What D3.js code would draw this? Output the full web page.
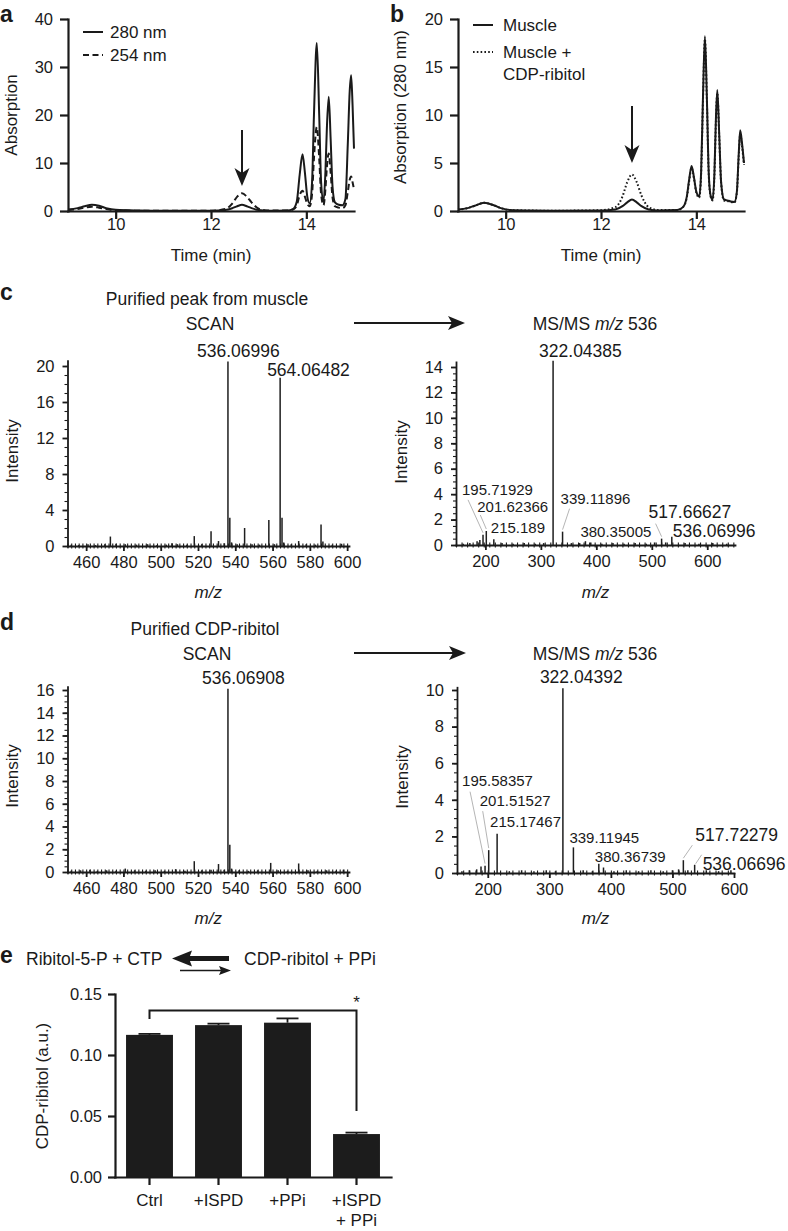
<!DOCTYPE html>
<html>
<head>
<meta charset="utf-8">
<script src="https://cdn.jsdelivr.net/npm/d3@7/dist/d3.min.js"></script>
<style>
html,body{margin:0;padding:0;background:#fff;}
svg{display:block;}
</style>
</head>
<body>
<svg id="fig" width="788" height="1231" xmlns="http://www.w3.org/2000/svg"></svg>
<script>
// ================= DATA =================
// Panel a: chromatogram, two wavelengths
const timeA = [9.0, 9.2, 9.35, 9.5, 9.65, 9.8, 10.0, 10.5, 11.0, 12.0,
  12.3, 12.45, 12.55, 12.65, 12.75, 12.85, 13.0, 13.2, 13.6, 13.72,
  13.8, 13.86, 13.92, 13.97, 14.02, 14.07, 14.12, 14.16, 14.22, 14.27,
  14.31, 14.36, 14.4, 14.43, 14.47, 14.51, 14.55, 14.6, 14.68, 14.76,
  14.82, 14.87, 14.91, 14.94, 14.97, 15.0];
const abs280 = [0.3, 0.6, 1.0, 1.3, 1.1, 0.6, 0.25, 0.1, 0.05, 0.05,
  0.2, 0.6, 1.0, 1.3, 1.0, 0.6, 0.2, 0.05, 0.1, 0.4,
  2.0, 7.5, 11.8, 8.0, 3.0, 1.6, 6.0, 20.0, 35.0, 20.0,
  6.0, 2.0, 8.0, 17.0, 23.8, 15.0, 5.0, 1.8, 1.3, 1.2,
  2.5, 14.0, 25.0, 28.3, 22.0, 13.0];
const abs254 = [0.2, 0.4, 0.7, 0.9, 0.7, 0.4, 0.15, 0.05, 0.03, 0.05,
  0.4, 1.6, 3.0, 3.7, 3.0, 1.8, 0.5, 0.1, 0.1, 0.3,
  1.2, 3.3, 4.2, 3.0, 1.5, 1.0, 3.5, 11.0, 17.5, 11.0,
  3.5, 1.2, 4.5, 9.0, 12.0, 8.0, 2.8, 1.0, 0.7, 0.6,
  1.2, 4.0, 6.5, 7.2, 6.0, 4.5];

// Panel b: chromatogram at 280 nm
const timeB = [9.0, 9.2, 9.35, 9.55, 9.75, 9.9, 10.1, 10.5, 11.0, 12.0,
  12.3, 12.45, 12.55, 12.65, 12.75, 12.85, 13.0, 13.2, 13.6, 13.72,
  13.8, 13.85, 13.9, 13.95, 14.0, 14.06, 14.1, 14.14, 14.18, 14.22,
  14.26, 14.3, 14.34, 14.38, 14.41, 14.44, 14.48, 14.52, 14.58, 14.65,
  14.72, 14.8, 14.85, 14.89, 14.92, 14.96, 15.0];
const absMuscle = [0.15, 0.3, 0.55, 0.85, 0.6, 0.3, 0.1, 0.05, 0.03, 0.05,
  0.15, 0.5, 0.9, 1.2, 0.9, 0.5, 0.15, 0.05, 0.1, 0.4,
  1.5, 3.3, 4.7, 3.5, 2.0, 1.5, 4.0, 12.0, 18.2, 12.0,
  4.0, 1.6, 1.2, 4.0, 9.5, 12.6, 8.0, 3.0, 1.2, 1.1,
  1.0, 0.95, 2.0, 6.0, 8.4, 7.0, 5.0];
const absMuscleCDP = [0.15, 0.3, 0.55, 0.85, 0.6, 0.3, 0.1, 0.05, 0.03, 0.08,
  0.4, 1.5, 3.0, 3.8, 3.0, 1.6, 0.4, 0.1, 0.1, 0.4,
  1.4, 3.1, 4.5, 3.4, 1.9, 1.4, 3.8, 11.6, 17.9, 11.8,
  3.8, 1.5, 1.1, 3.8, 9.2, 12.3, 7.8, 2.9, 1.1, 1.05,
  0.95, 0.9, 1.9, 5.7, 8.0, 6.7, 4.8];

const ticksTime = [10, 12, 14];
const ticksAbsA = [0, 10, 20, 30, 40];
const ticksAbsB = [0, 5, 10, 15, 20];
const legendA = ["280 nm", "254 nm"];
const legendB = ["Muscle", "Muscle +", "CDP-ribitol"];
const arrowTime = 12.65;

// Panel c: purified peak from muscle
const scanMuscleMz = [452, 456, 461, 465, 470, 473, 476, 481, 487, 493,
  498, 503, 506, 509, 514, 518, 522, 527, 531, 534,
  536.07, 537.07, 538, 541, 545, 549, 553, 558, 561, 564.06,
  565.07, 566, 570, 574, 578, 583, 586, 587, 592, 597];
const scanMuscleInt = [0.15, 0.1, 0.2, 0.1, 0.2, 1.05, 0.25, 0.2, 0.15, 0.2,
  0.1, 0.15, 0.3, 0.2, 0.15, 1.1, 0.2, 1.65, 0.55, 0.3,
  20.5, 3.15, 0.4, 0.2, 2.0, 0.2, 0.15, 2.9, 0.2, 18.7,
  3.15, 0.4, 0.2, 0.55, 0.2, 0.15, 2.4, 0.5, 0.15, 0.25];
const scanMuscleLabels = ["536.06996", "564.06482"];

const msmsMuscleMz = [160, 172, 185, 190, 195.72, 201.62, 215.19, 230, 250, 270,
  290, 305, 322.04, 339.12, 355, 370, 380.35, 390, 410, 430,
  450, 470, 490, 505, 517.67, 525, 536.07, 560, 585, 610, 635];
const msmsMuscleInt = [0.1, 0.15, 0.3, 0.4, 0.8, 1.1, 0.45, 0.15, 0.1, 0.15,
  0.1, 0.15, 14.5, 1.05, 0.15, 0.15, 0.3, 0.2, 0.1, 0.15,
  0.1, 0.15, 0.1, 0.2, 0.5, 0.2, 0.65, 0.15, 0.1, 0.15, 0.1];
const msmsMuscleLabels = ["322.04385", "195.71929", "201.62366", "215.189",
  "339.11896", "380.35005", "517.66627", "536.06996"];

// Panel d: purified CDP-ribitol
const scanCdpMz = [452, 457, 462, 466, 471, 476, 481, 486, 492, 497,
  502, 508, 513, 518, 522, 527, 531, 534, 536.07, 537.07,
  538, 542, 547, 552, 559, 563, 568, 574, 579, 584,
  589, 594, 598];
const scanCdpInt = [0.1, 0.15, 0.2, 0.1, 0.15, 0.1, 0.3, 0.15, 0.1, 0.15,
  0.1, 0.25, 0.1, 0.95, 0.15, 0.2, 0.7, 0.2, 16.1, 2.4,
  0.3, 0.15, 0.1, 0.15, 0.8, 0.15, 0.1, 0.75, 0.15, 0.1,
  0.15, 0.1, 0.2];
const scanCdpLabels = ["536.06908"];

const msmsCdpMz = [158, 170, 182, 189, 195.58, 201.52, 215.17, 235, 255, 275,
  295, 310, 322.04, 339.12, 355, 370, 380.37, 388, 405, 425,
  445, 465, 485, 500, 510, 517.72, 525, 536.07, 555, 575, 595];
const msmsCdpInt = [0.1, 0.15, 0.2, 0.35, 0.4, 1.25, 2.15, 0.1, 0.15, 0.1,
  0.15, 0.1, 10.1, 1.4, 0.15, 0.1, 0.5, 0.3, 0.1, 0.15,
  0.1, 0.15, 0.1, 0.15, 0.2, 0.7, 0.15, 0.45, 0.15, 0.1, 0.15];
const msmsCdpLabels = ["322.04392", "195.58357", "201.51527", "215.17467",
  "339.11945", "380.36739", "517.72279", "536.06696"];

const ticksScanMz = [460, 480, 500, 520, 540, 560, 580, 600];
const ticksMsmsMz = [200, 300, 400, 500, 600];
const ticksIntC1 = [0, 4, 8, 12, 16, 20];
const ticksIntC2 = [0, 2, 4, 6, 8, 10, 12, 14];
const ticksIntD1 = [0, 2, 4, 6, 8, 10, 12, 14, 16];
const ticksIntD2 = [0, 2, 4, 6, 8, 10];

// Panel e: bar chart
const barCategories = ["Ctrl", "+ISPD", "+PPi", "+ISPD\n+ PPi"];
const barValues = [0.1165, 0.1245, 0.1265, 0.0352];
const barErrors = [0.0008, 0.0012, 0.0035, 0.0012];
const ticksE = [0.00, 0.05, 0.10, 0.15];

// ================= DRAWING =================
const F = '"Liberation Sans", Arial, Helvetica, sans-serif';
const INK = "#1a1a1a";
const svg = d3.select("#fig");

function text(g, x, y, s, o = {}) {
  return g.append("text").attr("x", x).attr("y", y)
    .attr("font-family", F).attr("font-size", o.fs || 17)
    .attr("font-weight", o.bold ? "bold" : null)
    .attr("font-style", o.italic ? "italic" : null)
    .attr("text-anchor", o.anchor || "start")
    .attr("fill", o.fill || INK).text(s);
}
function rotText(g, x, y, s, fs) {
  return g.append("text").attr("transform", `translate(${x},${y}) rotate(-90)`)
    .attr("font-family", F).attr("font-size", fs).attr("text-anchor", "middle")
    .attr("fill", INK).text(s);
}
function styleAxis(g, sw, fs) {
  g.attr("font-family", null).attr("font-size", null);
  g.selectAll("text").attr("font-family", F).attr("font-size", fs).attr("fill", INK);
  g.selectAll("line").attr("stroke", INK).attr("stroke-width", sw);
  g.selectAll(".domain").attr("stroke", INK).attr("stroke-width", sw).attr("stroke-linecap", "square");
  return g;
}
function mzText(g, cx, y, fs) {
  const t = g.append("text").attr("x", cx).attr("y", y).attr("text-anchor", "middle")
    .attr("font-family", F).attr("font-size", fs).attr("fill", INK);
  t.append("tspan").attr("font-style", "italic").text("m/z");
  return t;
}
function msTitle(g, cx, y, fs) {
  const t = g.append("text").attr("x", cx).attr("y", y).attr("text-anchor", "middle")
    .attr("font-family", F).attr("font-size", fs).attr("fill", INK);
  t.append("tspan").text("MS/MS ");
  t.append("tspan").attr("font-style", "italic").text("m/z");
  t.append("tspan").text(" 536");
}
function hArrow(g, x0, x1, y) {
  g.append("line").attr("x1", x0).attr("x2", x1 - 10).attr("y1", y).attr("y2", y)
    .attr("stroke", INK).attr("stroke-width", 2);
  g.append("path").attr("d", `M${x1},${y} L${x1 - 17},${y - 7} L${x1 - 13},${y} L${x1 - 17},${y + 7} Z`).attr("fill", INK);
}

// ---------- chromatogram panels ----------
function chromPanel(opt) {
  const g = svg.append("g");
  const x = d3.scaleLinear().domain([9, 15]).range([opt.x0, opt.x0 + 286]);
  const y = d3.scaleLinear().domain([0, opt.ymax]).range([211, 19]);
  styleAxis(g.append("g").attr("transform", "translate(0,211)")
    .call(d3.axisBottom(x).tickValues(ticksTime).tickFormat(d3.format("d")).tickSize(8).tickSizeOuter(0).tickPadding(-1)), 2.2, 16.5);
  styleAxis(g.append("g").attr("transform", `translate(${opt.x0},0)`)
    .call(d3.axisLeft(y).tickValues(opt.yticks).tickFormat(d3.format("d")).tickSize(8).tickSizeOuter(0).tickPadding(7)), 2.2, 16.5);
  opt.series.forEach(s => {
    const line = d3.line().x((d, i) => x(opt.time[i])).y(d => y(d)).curve(d3.curveMonotoneX);
    g.append("path").datum(s.values).attr("d", line).attr("fill", "none")
      .attr("stroke", INK).attr("stroke-width", 2).attr("stroke-dasharray", s.dash);
  });
  // arrow
  const ax = x(arrowTime);
  g.append("line").attr("x1", ax).attr("x2", ax).attr("y1", opt.arrowTop).attr("y2", opt.arrowTip - 12)
    .attr("stroke", INK).attr("stroke-width", 2);
  g.append("path").attr("d", `M${ax},${opt.arrowTip} L${ax - 7.5},${opt.arrowTip - 18} L${ax},${opt.arrowTip - 13} L${ax + 7.5},${opt.arrowTip - 18} Z`).attr("fill", INK);
  text(g, opt.x0 + 143, 261, "Time (min)", { fs: 17, anchor: "middle" });
  rotText(g, opt.ylabX, opt.ylabY, opt.ylab, 17);
  text(g, opt.x0 - 68, 22, opt.letter, { fs: 23, bold: true });
  return g;
}

const gA = chromPanel({
  x0: 68, ymax: 40, yticks: ticksAbsA, time: timeA,
  series: [{ values: abs280, dash: null }, { values: abs254, dash: "6,3.5" }],
  arrowTop: 130, arrowTip: 186, ylab: "Absorption", ylabX: 17, ylabY: 115, letter: "a"
});
[0, 1].forEach(i => {
  const ly = [32, 55][i];
  gA.append("line").attr("x1", 83).attr("x2", 103).attr("y1", ly).attr("y2", ly)
    .attr("stroke", INK).attr("stroke-width", 2).attr("stroke-dasharray", i ? "6,3.5" : null);
  text(gA, 110, ly + 6, legendA[i], { fs: 17 });
});

const gB = chromPanel({
  x0: 458, ymax: 20, yticks: ticksAbsB, time: timeB,
  series: [{ values: absMuscle, dash: null }, { values: absMuscleCDP, dash: "1.6,2.2" }],
  arrowTop: 106, arrowTip: 163, ylab: "Absorption (280 nm)", ylabX: 406, ylabY: 107, letter: "b"
});
[0, 1].forEach(i => {
  const ly = [25, 52][i];
  gB.append("line").attr("x1", 473).attr("x2", 493).attr("y1", ly).attr("y2", ly)
    .attr("stroke", INK).attr("stroke-width", 2).attr("stroke-dasharray", i ? "1.6,2.2" : null);
});
text(gB, 503, 31, legendB[0], { fs: 17 });
text(gB, 503, 58, legendB[1], { fs: 17 });
text(gB, 503, 80, legendB[2], { fs: 17 });

// ---------- mass spectra ----------
function msPanel(opt) {
  const g = svg.append("g");
  const x = d3.scaleLinear().domain(opt.xdom).range(opt.xr);
  const y = d3.scaleLinear().domain([0, opt.ytop]).range([opt.y0, opt.y0 - opt.ytop * opt.ppu]);
  // minor ticks
  styleAxis(g.append("g").attr("transform", `translate(0,${opt.y0})`)
    .call(d3.axisBottom(x).tickValues(d3.range(opt.xdom[0], opt.xdom[1], opt.xminor)).tickSize(2.5).tickSizeOuter(0).tickFormat("")), 1.1, 10)
    .select(".domain").remove();
  styleAxis(g.append("g").attr("transform", `translate(0,${opt.y0})`)
    .call(d3.axisBottom(x).tickValues(d3.range(opt.xdom[0], opt.xdom[1], opt.xminor)).tickSize(-2.5).tickSizeOuter(0).tickFormat("")), 1.1, 10)
    .select(".domain").remove();
  styleAxis(g.append("g").attr("transform", `translate(${opt.xr[0]},0)`)
    .call(d3.axisLeft(y).tickValues(d3.range(0, opt.ytop, opt.yminor)).tickSize(3).tickSizeOuter(0).tickFormat("")), 1.1, 10)
    .select(".domain").remove();
  // major
  styleAxis(g.append("g").attr("transform", `translate(0,${opt.y0})`)
    .call(d3.axisBottom(x).tickValues(opt.xticks).tickSize(5).tickSizeOuter(0).tickPadding(opt.xpad)), 1.8, 16.5);
  styleAxis(g.append("g").attr("transform", `translate(${opt.xr[0]},0)`)
    .call(d3.axisLeft(y).tickValues(opt.yticks).tickSize(5).tickSizeOuter(0).tickPadding(8)), 1.8, 16.5);
  // sticks
  g.append("g").selectAll("line").data(opt.mz).join("line")
    .attr("x1", d => x(d)).attr("x2", d => x(d))
    .attr("y1", y(0)).attr("y2", (d, i) => y(opt.int[i]))
    .attr("stroke", "#1e1e1e").attr("stroke-width", 1.5);
  // labels
  opt.labels.forEach(lab => {
    const m = +lab;
    let bi = 0;
    opt.mz.forEach((v, i) => { if (Math.abs(v - m) < Math.abs(opt.mz[bi] - m)) bi = i; });
    const px = x(opt.mz[bi]), py = y(opt.int[bi]);
    const L = opt.layout[lab];
    if (L.lead) {
      g.append("line").attr("x1", px + L.lead[0]).attr("y1", py + L.lead[1])
        .attr("x2", px + (L.end ? L.end[0] : 0)).attr("y2", py + (L.end ? L.end[1] : -2))
        .attr("stroke", "#b5b5b5").attr("stroke-width", 1);
    }
    text(g, px + L.dx, py + L.dy, lab, { fs: L.fs });
  });
  rotText(g, opt.ylabX, opt.ylabY, "Intensity", 17);
  mzText(g, (opt.xr[0] + opt.xr[1]) / 2 + opt.mzdx, opt.mzY, 17);
  return g;
}

// c left
msPanel({
  xdom: [450, 601], xr: [67.5, 349], y0: 546, ytop: 20.6, ppu: 9,
  xticks: ticksScanMz, yticks: ticksIntC1, xminor: 2, yminor: 1, xpad: 5,
  mz: scanMuscleMz, int: scanMuscleInt, labels: scanMuscleLabels,
  layout: { "536.06996": { dx: -31, dy: -4.5, fs: 17.5 }, "564.06482": { dx: -13, dy: -2, fs: 17.5 } },
  ylabX: 18, ylabY: 451, mzY: 598, mzdx: 0
});
// c right
msPanel({
  xdom: [147, 650], xr: [456, 735], y0: 545, ytop: 14.4, ppu: 12.714,
  xticks: ticksMsmsMz, yticks: ticksIntC2, xminor: 10, yminor: 0.5, xpad: 5,
  mz: msmsMuscleMz, int: msmsMuscleInt, labels: msmsMuscleLabels,
  layout: {
    "322.04385": { dx: -14, dy: -4, fs: 17.5 },
    "195.71929": { dx: -21, dy: -40, fs: 15, lead: [-15, -35] },
    "201.62366": { dx: -9, dy: -19, fs: 15, lead: [-6, -16] },
    "215.189": { dx: -3, dy: -6, fs: 15 },
    "339.11896": { dx: -2, dy: -28, fs: 15, lead: [7, -23] },
    "380.35005": { dx: -5, dy: -4, fs: 15 },
    "517.66627": { dx: -13, dy: -21, fs: 17.5, lead: [-6, -15] },
    "536.06996": { dx: 1, dy: 0, fs: 17.5 }
  },
  ylabX: 407, ylabY: 452, mzY: 598, mzdx: 0
});
// d left
msPanel({
  xdom: [450, 601], xr: [67.5, 349], y0: 872, ytop: 16.3, ppu: 11.375,
  xticks: ticksScanMz, yticks: ticksIntD1, xminor: 2, yminor: 0.5, xpad: 5,
  mz: scanCdpMz, int: scanCdpInt, labels: scanCdpLabels,
  layout: { "536.06908": { dx: -26, dy: -5, fs: 17.5 } },
  ylabX: 18, ylabY: 776, mzY: 924, mzdx: 0
});
// d right
msPanel({
  xdom: [150, 600], xr: [457, 734], y0: 873, ytop: 10.15, ppu: 18.3,
  xticks: ticksMsmsMz, yticks: ticksIntD2, xminor: 10, yminor: 0.5, xpad: 5,
  mz: msmsCdpMz, int: msmsCdpInt, labels: msmsCdpLabels,
  layout: {
    "322.04392": { dx: -23, dy: -5, fs: 17.5 },
    "195.58357": { dx: -23, dy: -80, fs: 15, lead: [-15, -74] },
    "201.51527": { dx: -9, dy: -44, fs: 15, lead: [-6, -39] },
    "215.17467": { dx: -7, dy: -7, fs: 15 },
    "339.11945": { dx: -4, dy: -4, fs: 15 },
    "380.36739": { dx: -4, dy: -2, fs: 15 },
    "517.72279": { dx: 12, dy: -19, fs: 17.5, lead: [9, -15] },
    "536.06696": { dx: 8, dy: 5, fs: 17.5, lead: [7, -10], end: [1, -1] }
  },
  ylabX: 408, ylabY: 777, mzY: 924, mzdx: 0
});

// titles and arrows c/d
const gT = svg.append("g");
text(gT, 0, 300, "c", { fs: 23, bold: true });
text(gT, 207, 305, "Purified peak from muscle", { fs: 17.5, anchor: "middle" });
text(gT, 210, 330, "SCAN", { fs: 17.5, anchor: "middle" });
msTitle(gT, 595, 330, 17.5);
hArrow(gT, 354, 465, 323);
text(gT, 0, 630, "d", { fs: 23, bold: true });
text(gT, 205, 635, "Purified CDP-ribitol", { fs: 17.5, anchor: "middle" });
text(gT, 207, 660, "SCAN", { fs: 17.5, anchor: "middle" });
msTitle(gT, 595, 660, 17.5);
hArrow(gT, 354, 466, 653);

// ---------- panel e ----------
const gE = svg.append("g");
text(gE, 0, 963, "e", { fs: 23, bold: true });
text(gE, 26, 965, "Ribitol-5-P + CTP", { fs: 17.5 });
text(gE, 244, 965, "CDP-ribitol + PPi", { fs: 17.5 });
// thick reverse arrow
gE.append("line").attr("x1", 229).attr("x2", 186).attr("y1", 958.5).attr("y2", 958.5)
  .attr("stroke", INK).attr("stroke-width", 5);
gE.append("path").attr("d", "M172,958.5 L192,950.5 L189,958.5 L192,966.5 Z").attr("fill", INK);
// thin forward arrow
gE.append("line").attr("x1", 180).attr("x2", 222).attr("y1", 970.5).attr("y2", 970.5)
  .attr("stroke", INK).attr("stroke-width", 1.3);
gE.append("path").attr("d", "M231,970.5 L219,966 L221,970.5 L219,975 Z").attr("fill", INK);

const xE = d3.scaleBand().domain(barCategories).range([115, 391]).paddingInner(0.32).paddingOuter(0.16);
const yE = d3.scaleLinear().domain([0, 0.15]).range([1177, 994]);

gE.append("g").selectAll("rect").data(barValues).join("rect")
  .attr("x", (d, i) => xE(barCategories[i])).attr("width", xE.bandwidth())
  .attr("y", d => yE(d)).attr("height", d => yE(0) - yE(d)).attr("fill", "#1c1c1c");
barValues.forEach((v, i) => {
  const cx = xE(barCategories[i]) + xE.bandwidth() / 2;
  gE.append("line").attr("x1", cx).attr("x2", cx).attr("y1", yE(v)).attr("y2", yE(v + barErrors[i]))
    .attr("stroke", INK).attr("stroke-width", 1.8);
  gE.append("line").attr("x1", cx - 11).attr("x2", cx + 11).attr("y1", yE(v + barErrors[i])).attr("y2", yE(v + barErrors[i]))
    .attr("stroke", INK).attr("stroke-width", 1.8);
});
const axE = gE.append("g").attr("transform", "translate(0,1177)")
  .call(d3.axisBottom(xE).tickSize(8).tickSizeOuter(0).tickPadding(9));
styleAxis(axE, 2.2, 17);
axE.selectAll(".tick text").each(function (d) {
  const t = d3.select(this); const parts = d.split("\n");
  t.text(null);
  parts.forEach((p, k) => t.append("tspan").attr("x", 0).attr("dy", k === 0 ? "0.71em" : "1.15em").text(p));
}).attr("dy", null);
styleAxis(gE.append("g").attr("transform", "translate(115,0)")
  .call(d3.axisLeft(yE).tickValues(ticksE).tickFormat(d3.format(".2f")).tickSize(7).tickPadding(6).tickSizeOuter(0)), 2.2, 16.5);
rotText(gE, 48, 1086, "CDP-ribitol (a.u.)", 17);
// significance bracket
const c0 = xE(barCategories[0]) + xE.bandwidth() / 2;
const c3 = xE(barCategories[3]) + xE.bandwidth() / 2;
gE.append("path").attr("d", `M${c0},${yE(0.1295)} V${yE(0.1365)} H${c3} V${yE(0.054)}`)
  .attr("fill", "none").attr("stroke", INK).attr("stroke-width", 2);
text(gE, c3, 1008, "*", { fs: 17, anchor: "middle" });
</script>
</body>
</html>
